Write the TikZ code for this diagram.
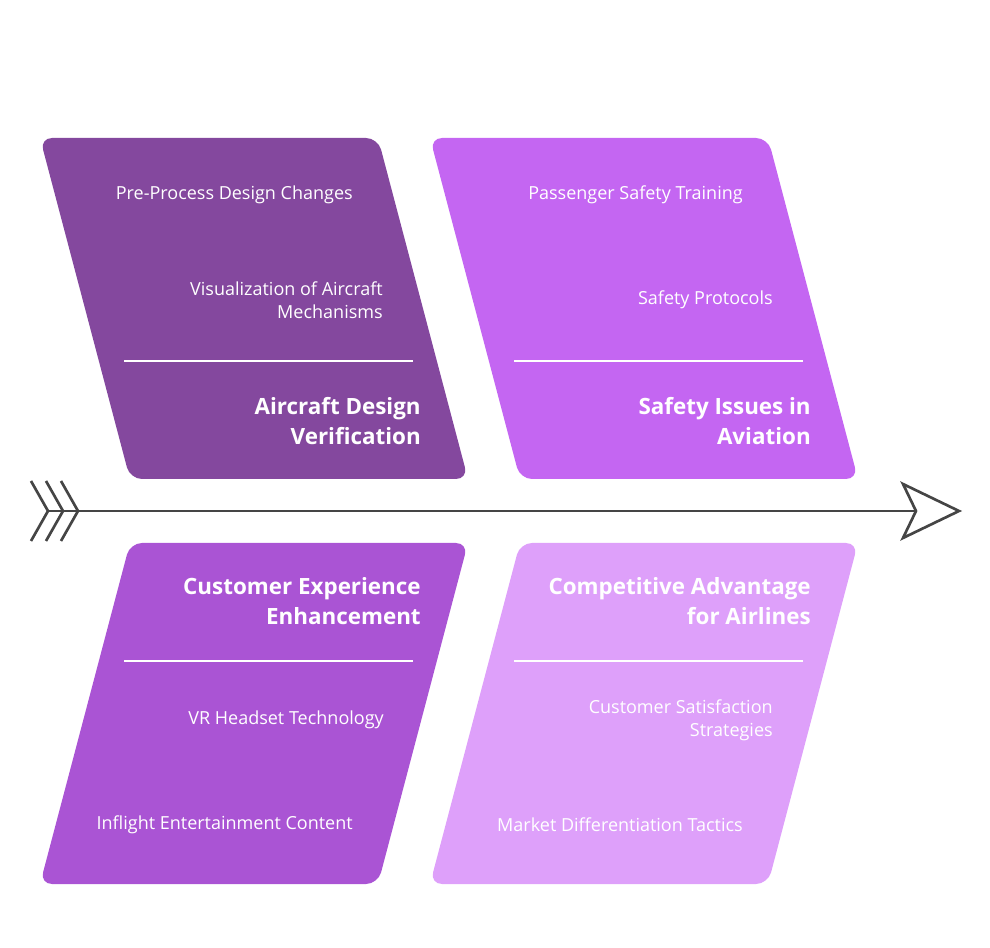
\documentclass[tikz,border=0pt]{standalone}
\usepackage{fontspec}
\setmainfont{Open Sans}
\usetikzlibrary{calc}

\tikzset{
  box/.style={rounded corners=9pt},
  divider/.style={white, line width=1.5pt},
  item/.style={anchor=east, align=right, text=white, inner sep=0pt,
    font=\fontsize{13.5}{17.25}\selectfont},
  heading/.style={anchor=east, align=right, text=white, inner sep=0pt,
    font=\fontsize{16.8}{22.5}\selectfont\bfseries},
  spine/.style={draw=black!73, line width=2pt, line join=miter}
}

\definecolor{designpurple}{HTML}{84489E}
\definecolor{safetypurple}{HTML}{C466F2}
\definecolor{customerpurple}{HTML}{AA54D4}
\definecolor{advantagepurple}{HTML}{DEA0FA}

\begin{document}
\begin{tikzpicture}[x=0.75pt, y=-0.75pt]
\useasboundingbox (0,0) rectangle (990,948);
% Draw top boxes
\fill[box, designpurple] (40,138) -- (378,138) -- (468,479) -- (130,479) -- cycle;
\fill[box, safetypurple] (430,138) -- (768,138) -- (858,479) -- (520,479) -- cycle;
% Draw bottom boxes
\fill[box, customerpurple] (130,543) -- (468,543) -- (378,884) -- (40,884) -- cycle;
\fill[box, advantagepurple] (520,543) -- (858,543) -- (768,884) -- (430,884) -- cycle;
% Dividers
\draw[divider] (124,361) -- (413,361);
\draw[divider] (514,361) -- (803,361);
\draw[divider] (124,661) -- (413,661);
\draw[divider] (514,661) -- (803,661);
% Aircraft Design Verification
\node[item] (prep) at (353,195) {Pre-Process Design Changes};
\node[item] (visual) at (383,300) {Visualization of Aircraft\\Mechanisms};
\node[heading] (design) at (421,421) {Aircraft Design\\Verification};
% Safety Issues in Aviation
\node[item] (training) at (743,195) {Passenger Safety Training};
\node[item] (protocols) at (773,300) {Safety Protocols};
\node[heading] (safety) at (811,421) {Safety Issues in\\Aviation};
% Customer Experience Enhancement
\node[heading] (customer) at (421,601) {Customer Experience\\Enhancement};
\node[item] (headset) at (384,720) {VR Headset Technology};
\node[item] (inflight) at (353,825) {Inflight Entertainment Content};
% Competitive Advantage for Airlines
\node[heading] (advantage) at (811,601) {Competitive Advantage\\for Airlines};
\node[item] (satisfaction) at (773,720) {Customer Satisfaction\\Strategies};
\node[item] (market) at (743,825) {Market Differentiation Tactics};
% Draw spine
\coordinate (tail) at (48,511);
\coordinate (notch) at (916,511);
\coordinate (head) at (959,511);
\draw[spine] (tail) -- (notch);
\draw[spine] (31,481) -- (tail) -- (31,541);
\draw[spine] ($(31,481)+(15,0)$) -- ($(tail)+(15,0)$) -- ($(31,541)+(15,0)$);
\draw[spine] ($(31,481)+(30,0)$) -- ($(tail)+(30,0)$) -- ($(31,541)+(30,0)$);
\draw[spine] (notch) -- (903,484) -- (head) -- (903,538) -- cycle;
\end{tikzpicture}
\end{document}
